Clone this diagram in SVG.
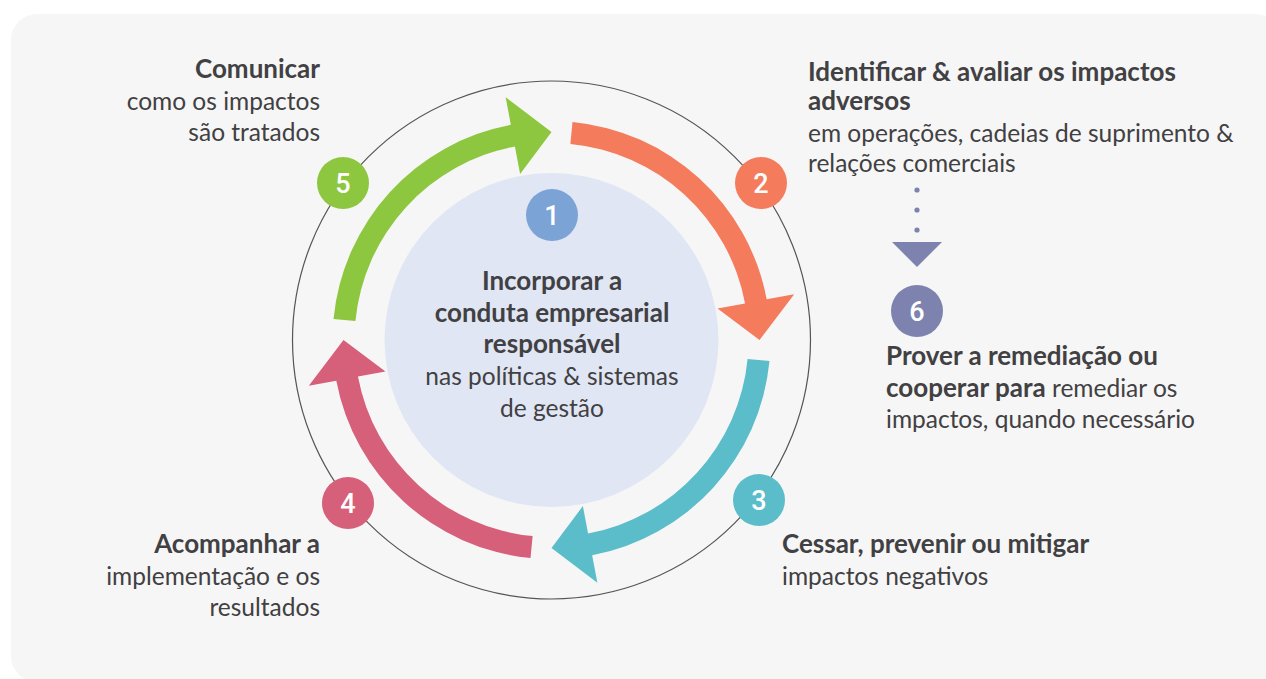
<svg xmlns="http://www.w3.org/2000/svg" width="1266" height="679" viewBox="0 0 1266 679">
<style>
.t{font-family:Lato,"Open Sans",sans-serif;font-size:24.5px;fill:#414042}
.b{font-weight:700;font-size:26px}
.r{text-anchor:end}
.m{text-anchor:middle}
.num{font-family:Roboto,"DejaVu Sans",sans-serif;font-weight:500;font-size:27px;fill:#fff;text-anchor:middle}
</style>
<defs>
<path id="arr" d="M769.49,360.99 A219,219 0 0 1 592.16,555.19 L597.36,582.70 L551.5,548 L582.88,506.06 L588.08,533.57 A197,197 0 0 0 747.59,358.88 Z"/>
</defs>
<rect x="11" y="14" width="1270" height="668" rx="26" fill="#f6f6f6"/>
<circle cx="551.5" cy="340" r="259" fill="none" stroke="#555" stroke-width="1.2"/>
<g id="connectors">
<use href="#arr" fill="#5bbdc9"/>
<use href="#arr" fill="#d65f7a" transform="rotate(90 551.5 340)"/>
<use href="#arr" fill="#8dc63f" transform="rotate(180 551.5 340)"/>
<use href="#arr" fill="#f47b5c" transform="rotate(270 551.5 340)"/>
<g fill="#7e82ae">
<circle cx="917" cy="190" r="2.6"/>
<circle cx="917" cy="210" r="2.6"/>
<circle cx="917" cy="230" r="2.6"/>
<polygon points="892,242 942,242 917,267"/>
</g>
</g>
<g id="node1">
<circle cx="551.5" cy="340" r="167" fill="#e0e6f4"/>
<circle cx="552" cy="215" r="26" fill="#7ba3d6"/>
<text class="num" x="552" y="225">1</text>
<text class="t b m" x="552" y="290">Incorporar a</text>
<text class="t b m" x="552" y="322">conduta empresarial</text>
<text class="t b m" x="552" y="353">responsável</text>
<text class="t m" x="552" y="385">nas políticas &amp; sistemas</text>
<text class="t m" x="552" y="417">de gestão</text>
</g>
<g id="node2">
<circle cx="761" cy="183" r="26" fill="#f47b5c"/>
<text class="num" x="761" y="193">2</text>
<text class="t b" x="808" y="81">Identificar &amp; avaliar os impactos</text>
<text class="t b" x="808" y="110">adversos</text>
<text class="t" x="808" y="142">em operações, cadeias de suprimento &amp;</text>
<text class="t" x="808" y="172">relações comerciais</text>
</g>
<g id="node3">
<circle cx="759" cy="500" r="26" fill="#5bbdc9"/>
<text class="num" x="759" y="510">3</text>
<text class="t b" x="782" y="553">Cessar, prevenir ou mitigar</text>
<text class="t" x="782" y="585">impactos negativos</text>
</g>
<g id="node4">
<circle cx="348" cy="503" r="26" fill="#d65f7a"/>
<text class="num" x="348" y="513">4</text>
<text class="t b r" x="320" y="553">Acompanhar a</text>
<text class="t r" x="320" y="585">implementação e os</text>
<text class="t r" x="320" y="616">resultados</text>
</g>
<g id="node5">
<circle cx="343" cy="183" r="26" fill="#8dc63f"/>
<text class="num" x="343" y="193">5</text>
<text class="t b r" x="320" y="78">Comunicar</text>
<text class="t r" x="320" y="110">como os impactos</text>
<text class="t r" x="320" y="141">são tratados</text>
</g>
<g id="node6">
<circle cx="917" cy="311" r="26" fill="#7e82ae"/>
<text class="num" x="917" y="321">6</text>
<text class="t b" x="886" y="365">Prover a remediação ou</text>
<text class="t" x="886" y="397"><tspan class="b">cooperar para</tspan> remediar os</text>
<text class="t" x="886" y="428">impactos, quando necessário</text>
</g>
</svg>
